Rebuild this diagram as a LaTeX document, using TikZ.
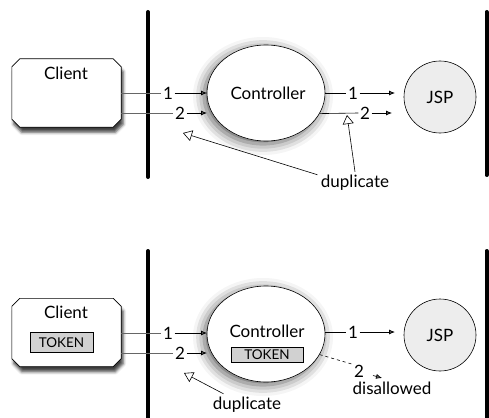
\documentclass[tikz,border=0pt]{standalone}
\usepackage{fontspec}
\setmainfont{Lato}
\usetikzlibrary{arrows.meta,calc,shapes.geometric,shadows.blur}

\newcommand\clientoutline[1]{%
  \path[clientedge]
    ($(#1.north west)+(8,0)$) -- ($(#1.north east)+(-8,0)$) -- ($(#1.north east)+(0,8)$)
    -- ($(#1.south east)+(0,-8)$) -- ($(#1.south east)+(-8,0)$) -- ($(#1.south west)+(8,0)$)
    -- ($(#1.south west)+(0,-8)$) -- ($(#1.north west)+(0,8)$) -- cycle;}

\begin{document}
\begin{tikzpicture}[x=1pt,y=-1pt,
  font=\fontsize{17}{19}\selectfont,
  wall/.style={line width=4pt,line cap=round},
  clientbox/.style={rectangle,minimum width=109pt,minimum height=68pt,inner sep=0pt},
  clientedge/.style={draw,fill=white,line width=0.6pt,
    blur shadow={shadow xshift=2pt,shadow yshift=-5pt,shadow blur radius=3pt,shadow opacity=75}},
  ctrlbox/.style={ellipse,draw,fill=white,line width=0.6pt,
    minimum width=118pt,minimum height=96pt,inner sep=0pt,
    blur shadow={shadow xshift=-3pt,shadow yshift=-3pt,shadow blur radius=11pt,shadow opacity=65}},
  jspbox/.style={circle,draw,fill=black!7,line width=0.6pt,minimum size=72pt,inner sep=0pt},
  tokenbox/.style={draw,fill=black!18,line width=0.6pt,inner sep=0pt,
    minimum height=20pt,font=\fontsize{13.5}{15}\selectfont},
  numlbl/.style={fill=white,inner sep=1.5pt},
  feed/.style={draw=black!60,line width=0.8pt},
  push/.style={line width=0.8pt,-{Latex[length=6pt,width=5pt]}},
  note/.style={line width=0.6pt,-{Triangle[open,length=9pt,width=11pt]}},
]
\useasboundingbox (0,0) rectangle (489,417);

% ---------- upper scenario: no token ----------
\draw[wall] (148,12) -- (148,177);
\draw[wall] (486.5,12) -- (486.5,175);

\node[clientbox] (client) at (66.5,93) {};
\clientoutline{client}
\node (clientlbl) at (66,73) {Client};

\node[ctrlbox] (ctrl) at (266,93) {};
\node (ctrllbl) at (268,93) {Controller};

\node[jspbox] (jsp) at (440,97) {};
\node (jsplbl) at (440,97) {JSP};

% requests from the client into the controller
\node[numlbl] (a1) at (168,93) {1};
\node[numlbl] (a2) at (180,113) {2};
\draw[feed] (client.east |- a1) -- (a1.west);
\draw[feed] (client.east |- a2) -- (a2.west);
\coordinate (a1end) at (207,93);
\coordinate (a2end) at (207,113);
\draw[push] (a1.east) -- (a1end);
\draw[push] (a2.east) -- (a2end);

% forwards from the controller to the JSP
\node[numlbl] (b1) at (353,93) {1};
\node[numlbl] (b2) at (365,113) {2};
\draw[line width=0.6pt] (ctrl.east) -- (b1.west);
\draw[line width=0.6pt] (ctrl.-21) -- (b2.west);
\coordinate (b1end) at (395,93);
\coordinate (b2end) at (392,113);
\draw[push] (b1.east) -- (b1end);
\draw[push] (b2.east) -- (b2end);

% duplicate callout
\node (dup) at (355,183) {duplicate};
\coordinate (dupA) at (183,133);
\coordinate (dupB) at (347,115);
\draw[note] (dup.north west) ++(0,3) -- (dupA);
\draw[note] (dup.north) -- (dupB);

% ---------- lower scenario: with token ----------
\draw[wall] (148,251) -- (148,420);
\draw[wall] (486.5,251) -- (486.5,420);

\node[clientbox] (client2) at (66.5,332.5) {};
\clientoutline{client2}
\node (client2lbl) at (66,312) {Client};
\node[tokenbox,minimum width=63pt] (tok1) at (61.5,342.5) {TOKEN};

\node[ctrlbox] (ctrl2) at (266,334) {};
\node (ctrl2lbl) at (267,331) {Controller};
\node[tokenbox,minimum width=72pt,minimum height=15pt] (tok2) at (267,355) {TOKEN};

\node[jspbox] (jsp2) at (440,335) {};
\node (jsp2lbl) at (440,335) {JSP};

% requests from the client into the controller
\node[numlbl] (c1) at (168,333) {1};
\node[numlbl] (c2) at (180,353) {2};
\draw[feed] (client2.east |- c1) -- (c1.west);
\draw[feed] (client2.east |- c2) -- (c2.west);
\coordinate (c1end) at (207,333);
\coordinate (c2end) at (207,353);
\draw[push] (c1.east) -- (c1end);
\draw[push] (c2.east) -- (c2end);

% allowed forward
\node[numlbl] (d1) at (353,332) {1};
\draw[line width=0.6pt] (ctrl2.east |- d1) -- (d1.west);
\coordinate (d1end) at (395,332);
\draw[push] (d1.east) -- (d1end);

% rejected second forward
\node[inner sep=0pt] (d2) at (359,371) {2};
\node (disallow) at (392,388) {disallowed};
\draw[line width=0.6pt,dashed] (ctrl2.-21) -- (d2.north west);
\coordinate (d2end) at (382,378);
\draw[line width=0.6pt,-{Latex[length=6pt,width=5pt]}] (373,375.5) -- (d2end);

% duplicate callout
\node (dup2) at (247,405) {duplicate};
\coordinate (dup2tip) at (184,373);
\draw[note] (dup2.north west) ++(14,0) -- (dup2tip);

\end{tikzpicture}
\end{document}
